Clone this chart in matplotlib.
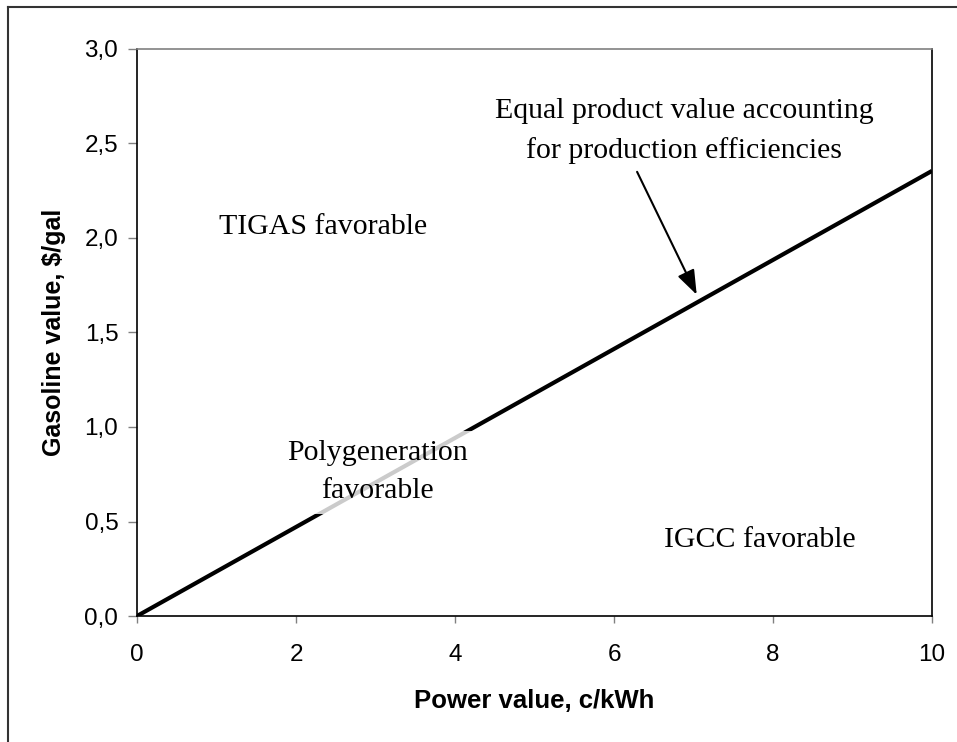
import matplotlib.pyplot as plt
from matplotlib.lines import Line2D

# break-even line between power and gasoline value
power_value = [0, 10]
gasoline_value = [0, 2.355]

x_ticks = [0, 2, 4, 6, 8, 10]
y_ticks = [0.0, 0.5, 1.0, 1.5, 2.0, 2.5, 3.0]
y_tick_labels = ['0,0', '0,5', '1,0', '1,5', '2,0', '2,5', '3,0']

fig = plt.figure(figsize=(9.57, 7.42), dpi=100)
ax = fig.add_axes([0.1432, 0.1698, 0.8307, 0.7642])

ax.plot(power_value, gasoline_value, color='black', lw=3.0,
        solid_capstyle='butt', zorder=2)

ax.set_xlim(0, 10)
ax.set_ylim(0, 3)
ax.set_xticks(x_ticks)
ax.set_xticklabels([str(t) for t in x_ticks])
ax.set_yticks(y_ticks)
ax.set_yticklabels(y_tick_labels)

for lab in ax.get_xticklabels() + ax.get_yticklabels():
    lab.set_fontfamily('Liberation Sans')
    lab.set_fontsize(17.5)
ax.tick_params(axis='x', direction='out', length=5, width=1,
               color='#808080', pad=15)
ax.tick_params(axis='y', direction='out', length=6.5, width=1,
               color='#808080', pad=7)

ax.spines['top'].set_color('#808080')
for s in ['left', 'bottom', 'right']:
    ax.spines[s].set_color('black')
for s in ax.spines.values():
    s.set_linewidth(1.2)

ax.set_xlabel('Power value, c/kWh', family='Liberation Sans',
              weight='bold', size=18.5, labelpad=17)
ax.set_ylabel('Gasoline value, $/gal', family='Liberation Sans',
              weight='bold', size=18, labelpad=13)

serif = dict(family='Liberation Serif', size=21.5, ha='center', va='center')
ax.text(2.34, 2.06, 'TIGAS favorable', **serif)
ax.text(7.84, 0.40, 'IGCC favorable', **serif)
ax.text(3.02, 0.76, 'Polygeneration\nfavorable', linespacing=1.6,
        bbox=dict(facecolor='white', edgecolor='none', alpha=0.8, pad=7),
        zorder=3, **serif)
ax.text(6.88, 2.565, 'Equal product value accounting\nfor production efficiencies',
        linespacing=1.6, **serif)
ax.annotate('', xy=(7.04, 1.70), xytext=(6.29, 2.35),
            arrowprops=dict(arrowstyle='-|>,head_length=1.5,head_width=0.55',
                            color='black', lw=1.5, shrinkA=0, shrinkB=0))

# outer frame around the chart area
fig.add_artist(Line2D([0.00836, 1.0], [0.9906, 0.9906],
                      transform=fig.transFigure, color='#333333', lw=1.5))
fig.add_artist(Line2D([0.00836, 0.00836], [0.0, 0.9906],
                      transform=fig.transFigure, color='#333333', lw=1.5))

fig.savefig('out.png', dpi=100)
